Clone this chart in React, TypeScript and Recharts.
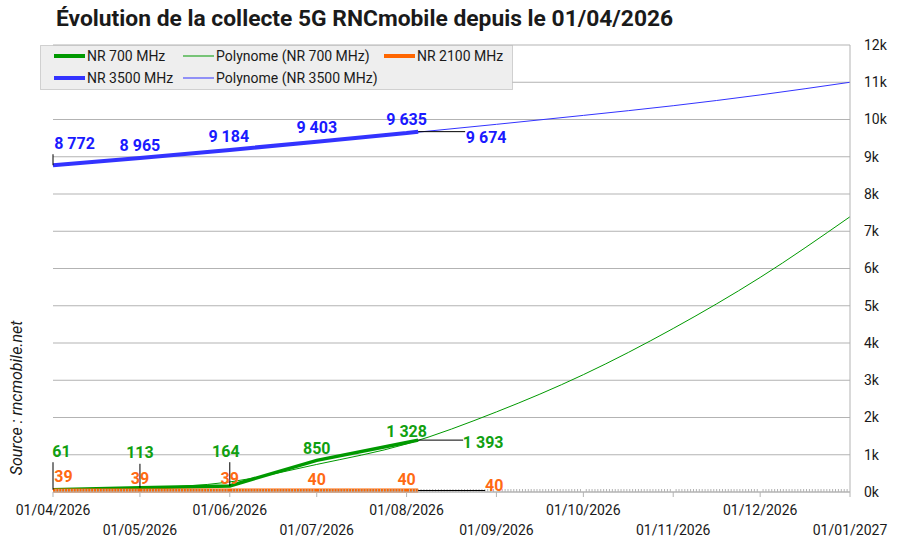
import { LineChart, Line, XAxis, YAxis, CartesianGrid, LabelList } from 'recharts'

// relevés (dates d'observation) et valeurs
const obsDates = ['2026-04-01', '2026-05-01', '2026-06-01', '2026-07-01', '2026-08-01', '2026-08-05']
const nr700 = [61, 113, 164, 850, 1328, 1393]
const nr2100 = [39, 39, 39, 40, 40, 40]
const nr3500 = [8772, 8965, 9184, 9403, 9635, 9674]

// courbes de tendance
const trendDates = [
  '2026-04-01', '2026-05-01', '2026-06-01', '2026-07-01', '2026-08-01', '2026-09-01',
  '2026-10-01', '2026-11-01', '2026-12-01', '2027-01-01',
]
const trend700 = [40, 100, 270, 740, 1290, 2150, 3150, 4390, 5760, 7390]
const trend3500 = [8760, 8970, 9180, 9410, 9630, 9870, 10110, 10370, 10660, 11000]

const monthTicks = [
  '2026-04-01', '2026-05-01', '2026-06-01', '2026-07-01', '2026-08-01', '2026-09-01',
  '2026-10-01', '2026-11-01', '2026-12-01', '2027-01-01',
]
const yTicks = [0, 1000, 2000, 3000, 4000, 5000, 6000, 7000, 8000, 9000, 10000, 11000, 12000]

const GREEN = '#009900'
const BLUE = '#3333ff'
const ORANGE = '#ff6600'
const FONT = 'Roboto, "Noto Sans", sans-serif'

const ts = (s: string) => {
  const [y, m, d] = s.split('-').map(Number)
  return Date.UTC(y, m - 1, d)
}
const DAY = 86400000
const start = ts(monthTicks[0])
const end = ts(monthTicks[monthTicks.length - 1])
const dayTicks: number[] = []
for (let t = start; t <= end; t += DAY) dayTicks.push(t)
const monthTs = monthTicks.map(ts)

const toPoints = (dates: string[], vals: number[]) => dates.map((d, i) => ({ x: ts(d), y: vals[i] }))
const data700 = toPoints(obsDates, nr700)
const data2100 = toPoints(obsDates, nr2100)
const data3500 = toPoints(obsDates, nr3500)
const dataT700 = toPoints(trendDates, trend700)
const dataT3500 = toPoints(trendDates, trend3500)

const fmt = (v: number) => String(v).replace(/\B(?=(\d{3})+(?!\d))/g, ' ')
const fmtDate = (t: number) => {
  const d = new Date(t)
  const dd = String(d.getUTCDate()).padStart(2, '0')
  const mm = String(d.getUTCMonth() + 1).padStart(2, '0')
  return `${dd}/${mm}/${d.getUTCFullYear()}`
}

// décalages des étiquettes [dx, dy, repère] ; 'v' = trait vertical, nombre = trait horizontal de cette longueur
const offs3500: [number, number, any][] = [[21.5, -22, 'v'], [0, -13, null], [-1, -13.3, null], [0, -14.6, null], [0, -13.2, null], [68, 6, 47]]
const offs700: [number, number, any][] = [[8.5, -38.5, 'v'], [0, -35, 'v'], [-4, -34.7, 'v'], [0, -11.5, null], [0, -11.3, null], [65, 2.4, 45]]
const offs2100: [number, number, any][] = [[10.5, -13.7, null], [0, -11.7, null], [0, -11.7, null], [0, -11, null], [0, -11, null], [76, -5, 67]]

function makeLabel(color: string, offs: [number, number, any][]) {
  return (props: any) => {
    const vb = props.viewBox || {}
    const px = props.x ?? vb.x
    const py = props.y ?? vb.y
    const i = props.index ?? 0
    const [dx, dy, lead] = offs[i] || [0, -12, null]
    const cx = px + dx
    const cy = py + dy
    return (
      <g>
        {lead === 'v' && <line x1={px} x2={px} y1={cy + 11} y2={py} stroke="#000" strokeWidth={1} />}
        {typeof lead === 'number' && <line x1={px} x2={px + lead} y1={py} y2={py} stroke="#000" strokeWidth={1} />}
        <text x={cx} y={cy} dy="0.35em" textAnchor="middle" fill={color} fontFamily={FONT} fontWeight="bold" fontSize={16}>
          {fmt(props.value)}
        </text>
      </g>
    )
  }
}

function DateTick({ x, y, payload }: any) {
  const t = payload.value
  const idx = monthTs.indexOf(t)
  if (idx < 0) {
    return <line x1={x} x2={x} y1={y - 3} y2={y} stroke="#b3b3b3" strokeWidth={1} />
  }
  const row = idx % 2 === 0 ? 18 : 38
  return (
    <g>
      <line x1={x} x2={x} y1={y} y2={y + 5} stroke="#b3b3b3" strokeWidth={1} />
      <text x={x} y={y + row} dy="0.35em" textAnchor="middle" fill="#1a1a1a" fontFamily={FONT} fontSize={14}>
        {fmtDate(t)}
      </text>
    </g>
  )
}

function LegendBox() {
  const items = [
    { x: 18, y: 11, w: 4, c: GREEN, t: 'NR 700 MHz' },
    { x: 147, y: 11, w: 1, c: GREEN, t: 'Polynome (NR 700 MHz)' },
    { x: 348, y: 11, w: 4, c: ORANGE, t: 'NR 2100 MHz' },
    { x: 18, y: 33, w: 4, c: BLUE, t: 'NR 3500 MHz' },
    { x: 147, y: 33, w: 1, c: BLUE, t: 'Polynome (NR 3500 MHz)' },
  ]
  return (
    <svg width={474} height={46} style={{ position: 'absolute', left: 40, top: 45 }}>
      <rect x={0.5} y={0.5} width={472} height={44} fill="#eeeeee" stroke="#aaaaaa" strokeDasharray="1 1" />
      {items.map((it) => (
        <g key={it.t}>
          <line x1={it.x - 4} x2={it.x + 27} y1={it.y} y2={it.y} stroke={it.c} strokeWidth={it.w} />
          <text x={it.x + 29} y={it.y} dy="0.35em" fontFamily={FONT} fontSize={14} fill="#1a1a1a">
            {it.t}
          </text>
        </g>
      ))}
    </svg>
  )
}

export default function App() {
  return (
    <div style={{ position: 'absolute', left: 0, top: 0, width: 903, height: 553, background: '#fff' }}>
      <div
        style={{
          position: 'absolute', left: 56, top: 4, fontFamily: FONT, fontWeight: 'bold', fontSize: 22.8,
          lineHeight: '30px', color: '#1a1a1a', whiteSpace: 'nowrap',
        }}
      >
        Évolution de la collecte 5G RNCmobile depuis le 01/04/2026
      </div>
      <div
        style={{
          position: 'absolute', left: 16, top: 398, transform: 'translate(-50%, -50%) rotate(-90deg)',
          fontFamily: FONT, fontStyle: 'italic', fontSize: 16, color: '#1a1a1a', whiteSpace: 'nowrap',
        }}
      >
        Source : rncmobile.net
      </div>
      <LineChart width={903} height={553} margin={{ top: 45, right: 8, bottom: 6, left: 53 }} style={{ position: 'absolute', left: 0, top: 0 }}>
        <CartesianGrid vertical={false} stroke="#b3b3b3" yAxisId="right" />
        <XAxis
          dataKey="x"
          type="number"
          scale="linear"
          domain={[start, end]}
          ticks={dayTicks}
          interval={0}
          height={55}
          tickSize={0}
          tickMargin={0}
          tickLine={false}
          axisLine={{ stroke: '#b3b3b3' }}
          tick={<DateTick />}
          allowDataOverflow
        />
        <YAxis yAxisId="left" orientation="left" width={0} domain={[0, 12000]} ticks={yTicks} tick={false} tickLine={false} axisLine={{ stroke: '#b3b3b3' }} />
        <YAxis
          yAxisId="right"
          orientation="right"
          width={45}
          domain={[0, 12000]}
          ticks={yTicks}
          interval={0}
          tickLine={false}
          tickMargin={8}
          axisLine={{ stroke: '#b3b3b3' }}
          tickFormatter={(v: number) => `${v / 1000}k`}
          tick={{ fontSize: 14, fontFamily: FONT, fill: '#1a1a1a', textAnchor: 'start' }}
        />
        <Line yAxisId="right" data={dataT700} dataKey="y" type="monotone" stroke={GREEN} strokeWidth={1} dot={false} isAnimationActive={false} />
        <Line yAxisId="right" data={dataT3500} dataKey="y" type="monotone" stroke={BLUE} strokeWidth={1} dot={false} isAnimationActive={false} />
        <Line yAxisId="right" data={data700} dataKey="y" type="linear" stroke={GREEN} strokeWidth={3.5} dot={false} isAnimationActive={false}>
          <LabelList dataKey="y" content={makeLabel('#11a011', offs700)} />
        </Line>
        <Line yAxisId="right" data={data3500} dataKey="y" type="linear" stroke={BLUE} strokeWidth={4} dot={false} isAnimationActive={false}>
          <LabelList dataKey="y" content={makeLabel('#1a1aff', offs3500)} />
        </Line>
        <Line yAxisId="right" data={data2100} dataKey="y" type="linear" stroke={ORANGE} strokeWidth={4} dot={false} isAnimationActive={false}>
          <LabelList dataKey="y" content={makeLabel('#ff6a13', offs2100)} />
        </Line>
      </LineChart>
      <LegendBox />
    </div>
  )
}
